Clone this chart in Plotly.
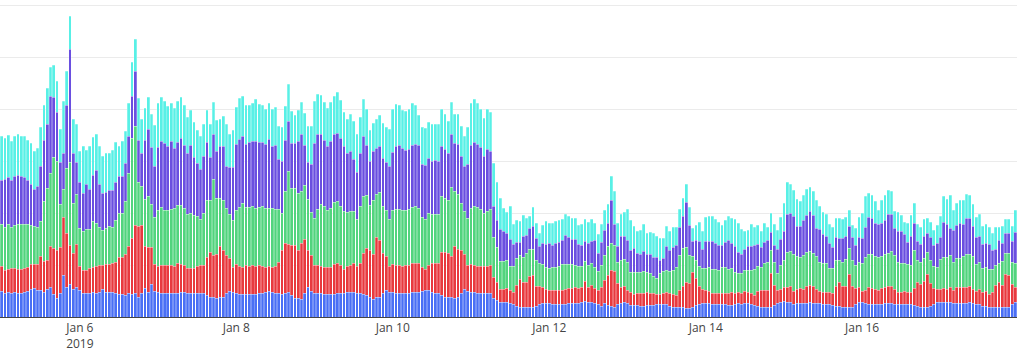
import pandas as pd
import plotly.graph_objects as go

hours = pd.date_range("2019-01-05 00:00", periods=312, freq="h")

blue = [26,24,25,24,25,24,24,25,26,28, 29,27,27,25,28,30,23,19,24,42, 30,33,28,30,27,24,24,24,25,24, 25,28,25,25,25,24,23,23,22,24, 23,24,20,24,29,
        25,33,26,25,24,24,24,24,24,24, 25,25,24,24,24,24,24,24,22,20, 20,19,20,20,24,26,25,24,23,23, 23,23,23,23,24,24,25,26,25,24, 24,23,24,25,22,
        19,19,18,24,30,26,24,24,24,23, 23,23,23,24,24,24,25,25,25,24, 24,23,22,20,18,20,20,24,27,25, 25,24,24,24,24,24,25,25,25,26, 27,27,25,24,24,
        22,20,20,20,19,20,24,28,26,25, 25,24,24,24,24,24,
        19,17,15,15,15,14,13,11,10,10, 10,10,10,11,13,14,14,14,13,13, 13,13,13,14,14,14,14,15,16,
        15,15,14,13,11,14,12,11,10,13, 14,15,14,12,12,12,11,11,12,12, 12,13,13,13,13,11,10,10,10,10, 9,9,10,12,13,14,14,14,13,13, 13,13,13,12,12,
        13,14,13,14,14,13,12,11,10,10, 10,10,12,14,15,16,15,15,13,14, 14,14,14,15,14,14,14,13,13,13, 12,11,11,10,10,10,10,13,15,15, 14,13,13,13,13,
        13,14,14,14,13,13,13,13,13,13, 12,11,10,10,10,11,13,15,15,15, 15,15,14,14,14,14,14,15,14,13, 13,11,11,10,10,10,10,10,10,10, 13,15]

red = [25,23,23,25,24,24,24,24,24,25, 24,26,34,31,29,41,46,48,46,58, 54,39,36,43,24,23,23,25,25,27, 27,24,28,28,29,31,37,37,41,47, 56,68,71,68,42,
       45,37,27,26,28,28,28,28,27,30, 28,27,25,25,25,27,28,28,38,45, 42,44,51,47,38,33,25,29,28,27, 29,28,29,28,28,27,25,25,25,27, 31,44,50,48,50,
       53,48,56,54,37,36,28,28,27,27, 27,27,30,30,28,24,26,27,29,27, 30,41,47,47,45,60,57,40,34,26, 28,28,28,27,28,28,29,29,29,24, 21,25,29,30,30,
       43,45,44,41,52,48,43,35,26,28, 27,27,27,27,27,28,
       21,18,13,13,14,13,12,21,28,25, 25,31,32,20,18,16,14,13,14,14, 14,14,15,15,15,16,15,15,20,
       15,17,15,14,19,23,30,36,36,21, 16,16,13,13,11,12,13,13,13,12, 12,10,10,11,12,13,13,12,17,21, 26,25,35,27,18,14,13,12,11,11, 11,11,11,12,13,
       11,11,11,12,11,11,10,15,17,17, 17,34,20,13,13,14,15,16,13,14, 15,14,17,17,17,14,12,12,12,12, 12,20,24,21,21,33,21,16,15,11, 13,17,16,15,14,
       16,16,17,17,15,12,12,13,12,12, 17,24,23,26,33,23,16,13,13,14, 13,15,13,16,16,16,16,16,14,13, 15,14,15,13,15,22,25,22,33,32, 20,15]

green = [42,43,45,41,43,45,45,44,43,39, 38,37,35,60,72,73,91,89,43,28, 65,83,50,50,38,39,41,39,46,43, 38,35,36,38,36,42,44,44,53,73, 100,99,44,39,47,
         51,43,47,56,58,55,55,56,58,58, 59,57,54,55,53,50,46,52,57,52, 76,56,48,50,47,44,47,54,59,64, 58,59,59,58,58,60,59,58,59,57, 53,37,52,73,57,
         57,57,52,54,51,43,47,56,62,61, 57,59,62,62,59,58,54,54,52,47, 57,57,53,45,54,43,48,47,46,47, 54,56,56,56,55,56,56,57,55,50, 50,52,49,49,49,
         56,54,53,69,55,55,47,43,47,56, 59,59,57,53,55,56,
         40,35,28,28,28,24,26,27,24,25, 29,27,26,26,23,23,22,22,23,23, 24,26,25,24,24,22,22,21,20,
         22,22,21,19,22,25,29,27,26,21, 27,27,28,20,22,21,21,22,20,20, 17,16,21,22,22,22,24,28,35,38, 35,28,16,18,20,21,22,24,24,24, 23,26,26,24,24,
         21,19,20,21,22,23,26,25,23,27, 28,23,23,17,24,27,35,35,37,33, 31,34,34,34,33,33,29,29,29,24, 25,26,22,24,27,26,26,23,25,28, 33,33,34,33,33,
         32,33,33,35,34,30,29,28,28,27, 38,22,22,23,22,23,22,22,30,31, 32,32,28,29,29,31,33,32,33,27, 27,24,24,25,23,20,19,24,21,22, 22,24]

purple = [44,48,47,47,49,49,48,47,44,41, 37,41,55,61,64,77,60,49,42,36, 63,113,50,32,46,38,45,40,46,53, 43,37,36,36,37,38,37,37,38,37, 42,55,42,33,59,
          67,57,51,63,66,67,64,68,60,63, 67,63,61,68,58,53,50,57,58,43, 45,47,52,54,42,47,53,66,68,67, 63,65,65,67,65,64,64,69,62,64, 50,52,51,50,45,
          45,52,57,40,37,48,75,75,70,66, 64,67,68,68,68,65,59,60,52,47, 53,60,50,44,49,46,46,48,48,53, 58,63,64,62,60,60,62,62,63,53, 54,55,53,54,53,
          50,49,47,53,48,50,47,45,54,63, 64,63,62,57,62,58,
          31,27,32,30,27,27,22,16,13,21, 18,21,23,22,17,21,23,25,22,24, 24,24,29,27,25,26,22,21,20,
          22,22,27,18,23,25,23,43,21,16, 24,23,22,22,24,19,18,20,18,19, 19,21,13,13,24,21,23,22,28,32, 45,30,15,20,25,19,27,26,28,26, 25,22,25,29,25,
          26,21,19,21,24,24,24,22,20,21, 22,18,17,24,26,29,38,38,38,30, 31,35,37,40,38,28,33,29,27,25, 21,23,22,24,23,22,23,20,25,25, 30,37,36,33,33,
          33,34,39,37,27,31,32,29,22,29, 27,19,18,22,19,23,21,24,22,35, 33,27,32,33,35,32,36,36,30,27, 26,24,24,25,19,16,23,18,20,20, 21,31]

cyan = [44,41,42,39,40,41,40,41,40,41, 38,38,39,35,36,29,32,31,33,52, 34,33,34,38,31,47,34,43,38,36, 38,37,39,37,40,40,30,35,32,33, 34,32,42,34,32,
        32,33,41,44,44,42,40,38,40,41, 41,40,36,35,35,33,33,32,32,33, 32,31,27,30,42,33,37,37,41,40, 39,37,38,42,38,37,35,36,37,38, 33,34,34,37,32,
        28,31,32,32,36,38,42,40,39,38, 38,39,38,41,38,34,34,37,38,38, 36,37,36,31,28,29,31,35,35,37, 43,42,40,38,39,40,42,39,30,37, 37,36,37,36,37,
        37,35,32,32,29,30,30,30,37,42, 43,41,38,38,40,39,
        43,38,31,23,21,33,20,22,21,21, 17,12,19,15,13,18,23,20,22,22, 22,21,21,21,21,21,19,21,22,
        21,22,17,19,18,20,19,24,33,23, 22,24,31,30,22,22,24,27,21,22, 24,21,22,20,20,19,20,18,18,18, 18,18,13,15,19,18,24,25,25,24, 23,20,22,24,25,
        27,29,25,18,16,22,18,19,16,19, 13,19,21,19,22,28,32,29,26,27, 25,25,26,24,24,28,23,22,22,19, 20,19,20,19,19,16,12,17,20,25, 31,24,23,22,14,
        23,25,24,23,17,19,16,12,19,21, 20,17,17,17,15,15,15,18,21,26, 25,33,20,22,23,24,24,23,22,20, 22,18,19,17,17,22,13,17,14,14, 15,22]

series = [("blue", blue, "#4a6ff5"), ("red", red, "#e8393e"),
          ("green", green, "#52d47e"), ("purple", purple, "#6a4fe0"),
          ("cyan", cyan, "#58f0e6")]

for name, vals, col in series:
    assert len(vals) == len(hours), (name, len(vals))

fig = go.Figure()
for name, vals, col in series:
    fig.add_trace(go.Bar(x=hours, y=vals, name=name, marker_color=col,
                         marker_line_color="rgba(255,255,255,0.5)",
                         marker_line_width=0.5))

fig.update_layout(
    template="plotly_white",
    barmode="stack",
    bargap=0.15,
    width=1024, height=364,
    margin=dict(l=0, r=7, t=0, b=47),
    showlegend=False,
    plot_bgcolor="white",
    paper_bgcolor="white",
    font=dict(color="#444", size=12),
)
fig.update_xaxes(
    type="date",
    range=["2019-01-04 23:30", "2019-01-17 23:30"],
    dtick=2 * 86400000, tick0="2019-01-06",
    showgrid=False, showline=True, linecolor="#444", linewidth=1,
    ticks="",
)
fig.update_yaxes(range=[0, 317], dtick=52, showticklabels=False,
                 gridcolor="#ebebeb", zeroline=False)

fig.write_html("out.html", config={"displayModeBar": False},
               post_script="document.body.style.margin='0';")
